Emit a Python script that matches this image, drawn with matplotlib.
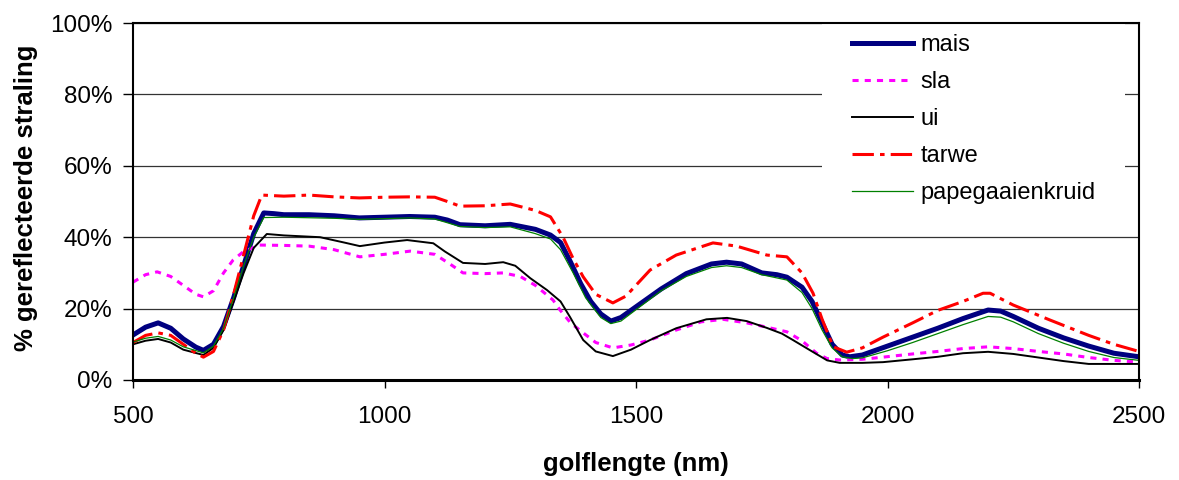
import matplotlib
matplotlib.use("Agg")
import matplotlib.pyplot as plt
from matplotlib.ticker import FuncFormatter
from matplotlib.patches import Rectangle

plt.rcParams['font.family'] = ['Liberation Sans', 'DejaVu Sans']

# ---- data (wavelength nm, reflectance %) ----
mais_x = [500, 525, 550, 575, 600, 625, 640, 660, 680, 700, 720, 740, 760, 780, 800, 850, 900, 950, 1000, 1050, 1100, 1125, 1150, 1200, 1250, 1300, 1330, 1350, 1370, 1390, 1410, 1430, 1450, 1470, 1500, 1550, 1600, 1650, 1680, 1710, 1750, 1780, 1800, 1830, 1850, 1870, 1890, 1910, 1925, 1950, 2000, 2050, 2100, 2150, 2200, 2225, 2250, 2300, 2350, 2400, 2450, 2500]
mais_y = [12.6, 14.8, 16.0, 14.5, 11.5, 9.2, 8.3, 10, 15, 23, 32, 41, 46.8, 46.6, 46.3, 46.3, 46.0, 45.4, 45.6, 45.8, 45.6, 44.8, 43.5, 43.2, 43.6, 42.2, 40.6, 38.5, 33, 27, 22, 18.5, 16.5, 17.5, 20.5, 25.5, 29.8, 32.5, 33, 32.5, 30, 29.5, 28.8, 26, 22, 16, 10, 7, 6.5, 7, 9.5, 12, 14.5, 17.2, 19.6, 19.3, 17.8, 14.5, 11.8, 9.5, 7.5, 6.5]

sla_x = [500, 525, 548, 575, 600, 625, 640, 660, 680, 699, 720, 752, 800, 850, 900, 951, 1000, 1051, 1100, 1130, 1156, 1200, 1236, 1270, 1300, 1335, 1349, 1370, 1395, 1420, 1454, 1490, 1528, 1580, 1630, 1673, 1720, 1760, 1800, 1830, 1859, 1880, 1905, 1950, 1991, 2050, 2100, 2150, 2200, 2250, 2300, 2350, 2400, 2450, 2500]
sla_y = [27.4, 29.5, 30.3, 29, 26.5, 24, 23.3, 25, 30, 33.6, 36, 37.8, 37.7, 37.5, 36.5, 34.5, 35.2, 36.1, 35.2, 32.5, 30, 29.8, 30, 29, 26.5, 22.4, 19.6, 16, 13.2, 10.5, 9, 9.8, 11.2, 14, 16.3, 17, 16, 14.8, 13.5, 11, 7.5, 6, 5.6, 5.8, 6.4, 7.3, 8, 8.8, 9.3, 8.8, 8, 7.3, 6.3, 5.5, 5]

ui_x = [500, 525, 550, 575, 600, 640, 660, 680, 700, 720, 740, 766, 800, 872, 920, 951, 1000, 1045, 1097, 1120, 1156, 1200, 1236, 1260, 1290, 1323, 1350, 1369, 1395, 1420, 1454, 1490, 1528, 1580, 1640, 1681, 1720, 1760, 1790, 1812, 1850, 1880, 1905, 1950, 1991, 2050, 2100, 2150, 2200, 2250, 2300, 2350, 2400, 2500]
ui_y = [10, 11, 11.5, 10.5, 8.5, 7, 9, 14, 22, 30, 37, 40.9, 40.5, 40, 38.5, 37.5, 38.5, 39.2, 38.3, 36, 32.8, 32.5, 33, 32, 28.5, 25.2, 22, 17.6, 11.2, 8, 6.7, 8.5, 11.2, 14.5, 17, 17.4, 16.5, 14.6, 13, 11.2, 8, 5.5, 4.8, 4.8, 5, 5.8, 6.5, 7.5, 7.9, 7.3, 6.3, 5.3, 4.5, 4.5]

tarwe_x = [500, 525, 550, 575, 600, 625, 640, 660, 680, 700, 720, 740, 756, 800, 850, 900, 950, 1000, 1050, 1100, 1125, 1150, 1200, 1250, 1300, 1330, 1355, 1375, 1395, 1420, 1454, 1480, 1528, 1580, 1653, 1700, 1760, 1800, 1830, 1852, 1870, 1892, 1919, 1950, 1991, 2050, 2100, 2150, 2190, 2204, 2250, 2323, 2400, 2450, 2500]
tarwe_y = [10.5, 12.5, 13.2, 12.5, 10, 7.5, 6.4, 8, 14, 24, 35, 46, 51.8, 51.5, 51.8, 51.3, 51, 51.2, 51.3, 51.2, 50, 48.7, 48.8, 49.3, 47.5, 45.7, 40, 34, 28.9, 24, 21.6, 23.5, 30.8, 35, 38.4, 37.5, 35, 34.5, 30, 24.3, 17, 9.3, 7.8, 9, 12, 16, 19.5, 22, 24.3, 24.3, 21, 16.8, 12.5, 10, 8]

pap_x = [500, 525, 550, 575, 600, 640, 660, 680, 700, 720, 740, 760, 800, 900, 950, 1000, 1050, 1100, 1150, 1200, 1250, 1300, 1330, 1350, 1375, 1400, 1430, 1450, 1470, 1500, 1550, 1600, 1650, 1680, 1710, 1750, 1800, 1830, 1850, 1870, 1890, 1910, 1930, 1950, 2000, 2050, 2100, 2150, 2200, 2225, 2250, 2300, 2350, 2400, 2450, 2500]
pap_y = [10.6, 11.7, 12.2, 11.2, 9.3, 7.6, 9.5, 14.5, 23, 32, 40, 45.5, 45.6, 45.3, 45, 45.2, 45.4, 45.1, 43, 42.7, 42.9, 41, 39.5, 36.5, 30, 23, 17.5, 15.8, 16.5, 19.7, 25, 29, 31.5, 32, 31.5, 29.5, 28, 24.5, 20, 14, 9, 6.5, 6, 6.2, 8.2, 10.5, 13, 15.5, 17.8, 17.6, 16.3, 13, 10.3, 8, 6.3, 5.5]

x_ticks = [500, 1000, 1500, 2000, 2500]
y_ticks = [0, 20, 40, 60, 80, 100]
x_label = "golflengte (nm)"
y_label = "% gereflecteerde straling"

W, H = 1179, 480
fig = plt.figure(figsize=(W / 100, H / 100), dpi=100)
ax = fig.add_axes([133 / W, 100 / H, 1006 / W, 357 / H])

ax.plot(mais_x, mais_y, color='#000080', lw=3.6, label='mais', zorder=2)
ax.plot(sla_x, sla_y, color='#FF00FF', lw=2.2, dashes=(2, 2), label='sla', zorder=2)
ax.plot(ui_x, ui_y, color='black', lw=1.4, label='ui', zorder=2)
ax.plot(tarwe_x, tarwe_y, color='#FF0000', lw=2.2, dashes=(7, 2, 1.5, 2), label='tarwe', zorder=2)
ax.plot(pap_x, pap_y, color='#008000', lw=0.9, label='papegaaienkruid', zorder=2)

ax.set_xlim(500, 2500)
ax.set_ylim(0, 100)
ax.set_xticks(x_ticks)
ax.set_yticks(y_ticks)
ax.yaxis.set_major_formatter(FuncFormatter(lambda v, p: f"{int(v)}%"))
ax.grid(axis='y', color='#333333', lw=0.9)
ax.set_axisbelow(True)
for s in ax.spines.values():
    s.set_color('black')
    s.set_linewidth(1.5)
ax.spines['bottom'].set_linewidth(2.2)
ax.tick_params(axis='both', direction='out', width=1, labelsize=17.5, colors='black')
ax.tick_params(axis='x', length=6, pad=13)
ax.tick_params(axis='y', length=7, pad=8)

# white box behind the legend, covering the gridlines
ax.add_patch(Rectangle((0.685, 0.462), 0.301, 0.535, transform=ax.transAxes,
                       facecolor='white', edgecolor='none', zorder=1))

ax.set_xlabel(x_label, fontsize=18.5, fontweight='bold')
ax.xaxis.label.set_va('center')
ax.xaxis.set_label_coords(0.5, (380 - 464) / 357)
ax.set_ylabel(y_label, fontsize=18.5, fontweight='bold')
ax.yaxis.label.set_va('center')
ax.yaxis.set_label_coords((26 - 133) / 1006, 0.51)

leg = ax.legend(loc='upper left', bbox_to_anchor=(852 / W, (H - 34) / H),
                bbox_transform=fig.transFigure, fontsize=17,
                frameon=False, handlelength=2.6, handletextpad=0.3,
                labelspacing=0.64, borderpad=0, borderaxespad=0)

fig.savefig('out.png', dpi=100)
